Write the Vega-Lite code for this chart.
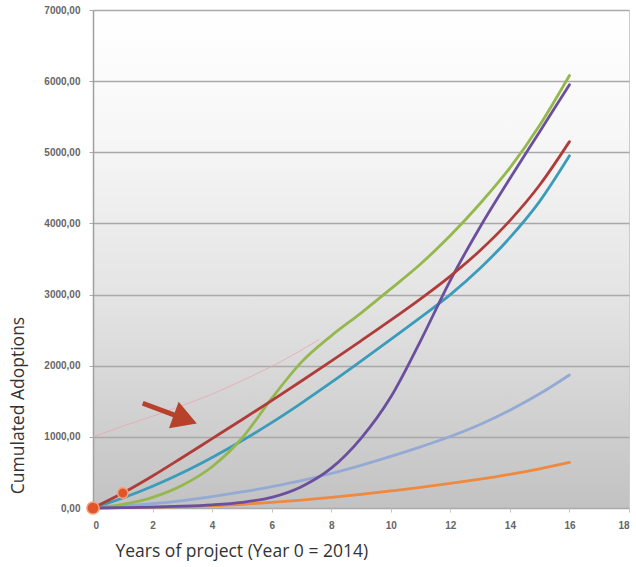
{
  "$schema": "https://vega.github.io/schema/vega-lite/v6.json",
  "width": 536,
  "height": 498,
  "autosize": "none",
  "padding": {"left": 93, "top": 10, "right": 7, "bottom": 59},
  "background": "#ffffff",
  "config": {
    "view": {
      "stroke": "#cccccc",
      "fill": {"gradient": "linear", "x1": 0, "y1": 0, "x2": 0, "y2": 1,
        "stops": [
          {"offset": 0, "color": "#ffffff"},
          {"offset": 0.25, "color": "#f7f7f7"},
          {"offset": 0.6, "color": "#e2e2e2"},
          {"offset": 1, "color": "#c2c2c2"}
        ]}
    }
  },
  "datasets": {
    "series": [
      {"s": "pink", "x": 0, "y": 1000}, {"s": "pink", "x": 1, "y": 1150}, {"s": "pink", "x": 2, "y": 1290}, {"s": "pink", "x": 3, "y": 1440}, {"s": "pink", "x": 4, "y": 1600}, {"s": "pink", "x": 5, "y": 1790}, {"s": "pink", "x": 6, "y": 1990}, {"s": "pink", "x": 7, "y": 2220}, {"s": "pink", "x": 7.6, "y": 2370},
      {"s": "orange", "x": 0, "y": 0}, {"s": "orange", "x": 1, "y": 5}, {"s": "orange", "x": 2, "y": 12}, {"s": "orange", "x": 3, "y": 20}, {"s": "orange", "x": 4, "y": 32}, {"s": "orange", "x": 5, "y": 52}, {"s": "orange", "x": 6, "y": 78}, {"s": "orange", "x": 7, "y": 110}, {"s": "orange", "x": 8, "y": 148}, {"s": "orange", "x": 9, "y": 192}, {"s": "orange", "x": 10, "y": 240}, {"s": "orange", "x": 11, "y": 290}, {"s": "orange", "x": 12, "y": 345}, {"s": "orange", "x": 13, "y": 405}, {"s": "orange", "x": 14, "y": 472}, {"s": "orange", "x": 15, "y": 550}, {"s": "orange", "x": 16, "y": 640},
      {"s": "lightblue", "x": 0, "y": 0}, {"s": "lightblue", "x": 1, "y": 25}, {"s": "lightblue", "x": 2, "y": 60}, {"s": "lightblue", "x": 3, "y": 105}, {"s": "lightblue", "x": 4, "y": 160}, {"s": "lightblue", "x": 5, "y": 225}, {"s": "lightblue", "x": 6, "y": 300}, {"s": "lightblue", "x": 7, "y": 385}, {"s": "lightblue", "x": 8, "y": 485}, {"s": "lightblue", "x": 9, "y": 600}, {"s": "lightblue", "x": 10, "y": 725}, {"s": "lightblue", "x": 11, "y": 860}, {"s": "lightblue", "x": 12, "y": 1005}, {"s": "lightblue", "x": 13, "y": 1175}, {"s": "lightblue", "x": 14, "y": 1375}, {"s": "lightblue", "x": 15, "y": 1605}, {"s": "lightblue", "x": 16, "y": 1870},
      {"s": "teal", "x": 0, "y": 0}, {"s": "teal", "x": 1, "y": 140}, {"s": "teal", "x": 2, "y": 305}, {"s": "teal", "x": 3, "y": 495}, {"s": "teal", "x": 4, "y": 710}, {"s": "teal", "x": 5, "y": 945}, {"s": "teal", "x": 6, "y": 1200}, {"s": "teal", "x": 7, "y": 1475}, {"s": "teal", "x": 8, "y": 1765}, {"s": "teal", "x": 9, "y": 2065}, {"s": "teal", "x": 10, "y": 2370}, {"s": "teal", "x": 11, "y": 2680}, {"s": "teal", "x": 12, "y": 3000}, {"s": "teal", "x": 13, "y": 3370}, {"s": "teal", "x": 14, "y": 3800}, {"s": "teal", "x": 15, "y": 4310}, {"s": "teal", "x": 16, "y": 4950},
      {"s": "green", "x": 0, "y": 0}, {"s": "green", "x": 1, "y": 50}, {"s": "green", "x": 2, "y": 150}, {"s": "green", "x": 3, "y": 320}, {"s": "green", "x": 4, "y": 580}, {"s": "green", "x": 5, "y": 980}, {"s": "green", "x": 6, "y": 1540}, {"s": "green", "x": 7, "y": 2050}, {"s": "green", "x": 8, "y": 2420}, {"s": "green", "x": 9, "y": 2740}, {"s": "green", "x": 10, "y": 3080}, {"s": "green", "x": 11, "y": 3430}, {"s": "green", "x": 12, "y": 3830}, {"s": "green", "x": 13, "y": 4280}, {"s": "green", "x": 14, "y": 4780}, {"s": "green", "x": 15, "y": 5380}, {"s": "green", "x": 16, "y": 6080},
      {"s": "purple", "x": 0, "y": 0}, {"s": "purple", "x": 1, "y": 5}, {"s": "purple", "x": 2, "y": 12}, {"s": "purple", "x": 3, "y": 25}, {"s": "purple", "x": 4, "y": 45}, {"s": "purple", "x": 5, "y": 80}, {"s": "purple", "x": 6, "y": 150}, {"s": "purple", "x": 7, "y": 300}, {"s": "purple", "x": 8, "y": 560}, {"s": "purple", "x": 9, "y": 980}, {"s": "purple", "x": 10, "y": 1560}, {"s": "purple", "x": 11, "y": 2350}, {"s": "purple", "x": 12, "y": 3200}, {"s": "purple", "x": 13, "y": 3950}, {"s": "purple", "x": 14, "y": 4630}, {"s": "purple", "x": 15, "y": 5290}, {"s": "purple", "x": 16, "y": 5950},
      {"s": "red", "x": 0, "y": 0}, {"s": "red", "x": 1, "y": 210}, {"s": "red", "x": 2, "y": 450}, {"s": "red", "x": 3, "y": 710}, {"s": "red", "x": 4, "y": 975}, {"s": "red", "x": 5, "y": 1240}, {"s": "red", "x": 6, "y": 1510}, {"s": "red", "x": 7, "y": 1785}, {"s": "red", "x": 8, "y": 2065}, {"s": "red", "x": 9, "y": 2350}, {"s": "red", "x": 10, "y": 2640}, {"s": "red", "x": 11, "y": 2940}, {"s": "red", "x": 12, "y": 3260}, {"s": "red", "x": 13, "y": 3620}, {"s": "red", "x": 14, "y": 4040}, {"s": "red", "x": 15, "y": 4540}, {"s": "red", "x": 16, "y": 5150}
    ],
    "markers": [
      {"x": 0, "y": 0, "big": "yes"},
      {"x": 1, "y": 210, "big": "no"}
    ],
    "arrow": [
      {"x": 1.67, "y": 1472, "x2": 3.1, "y2": 1248}
    ]
  },
  "layer": [
    {
      "data": {"name": "series"},
      "mark": {"type": "line", "interpolate": "monotone", "strokeWidth": 2.8, "strokeCap": "round"},
      "transform": [{"filter": "datum.s !== 'pink'"}],
      "encoding": {
        "x": {
          "field": "x", "type": "quantitative",
          "scale": {"domain": [0, 18], "nice": false, "zero": false},
          "axis": {
            "values": [0, 2, 4, 6, 8, 10, 12, 14, 16, 18],
            "grid": false,
            "domain": false,
            "ticks": true,
            "tickColor": "#c4c4c4",
            "tickSize": 4,
            "labelFont": "Liberation Sans",
            "labelFontSize": 10,
            "labelFontWeight": "bold",
            "labelColor": "#666666",
            "labelPadding": 8,
            "title": "Years of project (Year 0 = 2014)",
            "titleFont": "Open Sans",
            "titleFontWeight": "normal",
            "titleFontSize": 17.5,
            "titleColor": "#333333",
            "titleAnchor": "start",
            "titleAlign": "left",
            "titleX": 22,
            "titleY": 43,
            "titleBaseline": "middle"
          }
        },
        "y": {
          "field": "y", "type": "quantitative",
          "scale": {"domain": [0, 7000], "nice": false},
          "axis": {
            "values": [0, 1000, 2000, 3000, 4000, 5000, 6000, 7000],
            "labelExpr": "replace(format(datum.value, '.2f'), '.', ',')",
            "grid": true,
            "gridColor": "#a9a9a9",
            "gridWidth": 1.5,
            "domain": true,
            "domainColor": "#a0a0a0",
            "domainWidth": 1.5,
            "tickColor": "#a9a9a9",
            "tickSize": 4,
            "labelFont": "Liberation Sans",
            "labelFontSize": 10,
            "labelFontWeight": "bold",
            "labelColor": "#666666",
            "labelPadding": 9,
            "title": "Cumulated Adoptions",
            "titleFont": "Open Sans",
            "titleFontWeight": "normal",
            "titleFontSize": 17.5,
            "titleColor": "#333333",
            "titleAngle": -90,
            "titleAlign": "center",
            "titleBaseline": "middle",
            "titleX": -75,
            "titleY": 395
          }
        },
        "color": {
          "field": "s", "type": "nominal",
          "scale": {
            "domain": ["orange", "lightblue", "teal", "green", "purple", "red"],
            "range": ["#f0883e", "#94aad4", "#3b9bbb", "#94b84c", "#6b4f9e", "#b03c3a"]
          },
          "legend": null
        },
        "order": {"value": 0}
      }
    },
    {
      "data": {"name": "series"},
      "transform": [{"filter": "datum.s === 'pink'"}],
      "mark": {"type": "line", "interpolate": "monotone", "strokeWidth": 1, "color": "#e8a8b2", "opacity": 0.8},
      "encoding": {
        "x": {"field": "x", "type": "quantitative"},
        "y": {"field": "y", "type": "quantitative"}
      }
    },
    {
      "data": {"name": "markers"},
      "mark": {"type": "point", "filled": true, "color": "#e2542a", "stroke": "#f3a27a", "strokeWidth": 1.5, "opacity": 1},
      "encoding": {
        "x": {"field": "x", "type": "quantitative"},
        "y": {"field": "y", "type": "quantitative"},
        "size": {"field": "big", "type": "nominal", "scale": {"domain": ["yes", "no"], "range": [150, 110]}, "legend": null}
      }
    },
    {
      "data": {"name": "arrow"},
      "mark": {"type": "rule", "color": "#b8412c", "strokeWidth": 5},
      "encoding": {
        "x": {"field": "x", "type": "quantitative"},
        "y": {"field": "y", "type": "quantitative"},
        "x2": {"field": "x2"},
        "y2": {"field": "y2"}
      }
    },
    {
      "data": {"name": "arrow"},
      "mark": {"type": "point", "shape": "triangle-right", "filled": true, "color": "#b8412c", "opacity": 1, "size": 800, "angle": 20},
      "encoding": {
        "x": {"field": "x2", "type": "quantitative"},
        "y": {"field": "y2", "type": "quantitative"}
      }
    }
  ]
}
